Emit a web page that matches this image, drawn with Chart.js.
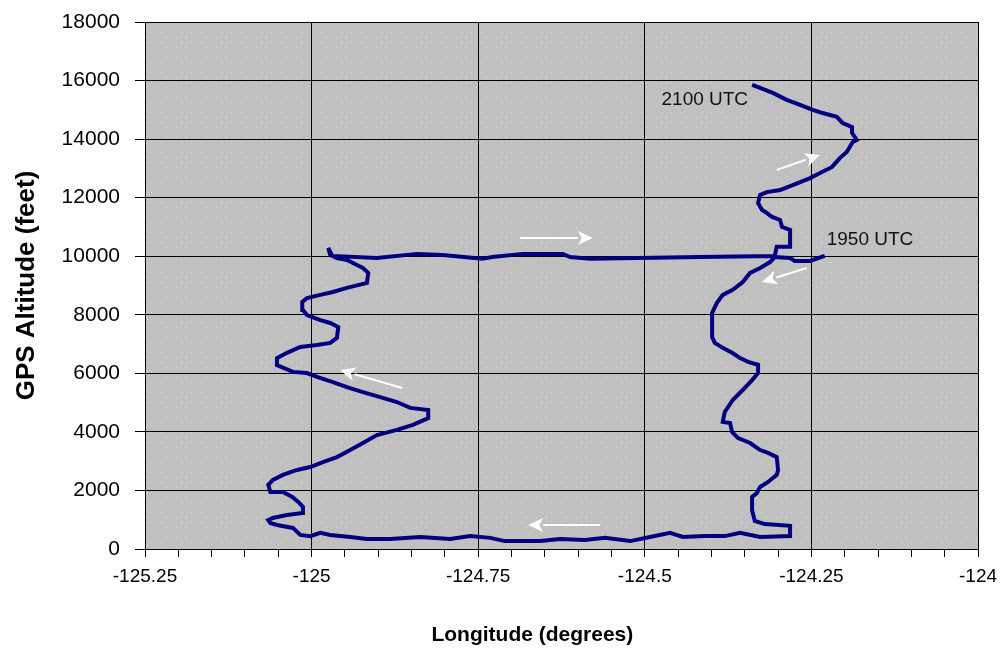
<!DOCTYPE html>
<html>
<head>
<meta charset="utf-8">
<script src="https://cdn.jsdelivr.net/npm/chart.js@4.4.0/dist/chart.umd.min.js"></script>
<style>
  html, body { margin: 0; padding: 0; background: #fff; }
  #wrap { width: 1006px; height: 649px; }
</style>
</head>
<body>
<div id="wrap"><canvas id="myChart" width="1006" height="649"></canvas></div>
<script>
// flight track, in order from 1950 UTC to 2100 UTC
const longitude = [
  -124.230, -124.252, -124.275, -124.282, -124.305, -124.312, -124.327, -124.342, -124.353, -124.368,
  -124.383, -124.392, -124.399, -124.399, -124.395, -124.383, -124.369, -124.357, -124.345, -124.330,
  -124.330, -124.339, -124.353, -124.368, -124.380, -124.383, -124.372, -124.369, -124.360, -124.342,
  -124.327, -124.315, -124.302, -124.300, -124.302, -124.315, -124.327, -124.332, -124.339, -124.339,
  -124.335, -124.320, -124.282, -124.282, -124.327, -124.357, -124.380, -124.410, -124.443, -124.462,
  -124.492, -124.522, -124.560, -124.590, -124.627, -124.657, -124.710, -124.732, -124.762, -124.792,
  -124.837, -124.882, -124.917, -124.942, -124.972, -124.987, -125.002, -125.017, -125.028, -125.052,
  -125.062, -125.065, -125.058, -125.037, -125.014, -125.013, -125.020, -125.029, -125.043, -125.062,
  -125.065, -125.058, -125.043, -125.022, -125.002, -124.983, -124.962, -124.942, -124.923, -124.902,
  -124.872, -124.848, -124.825, -124.825, -124.852, -124.872, -124.897, -124.923, -124.947, -124.968,
  -124.992, -125.007, -125.028, -125.052, -125.052, -125.037, -125.017, -124.992, -124.972, -124.962,
  -124.960, -124.972, -124.987, -125.007, -125.013, -125.014, -125.007, -124.987, -124.968, -124.947,
  -124.917, -124.915, -124.923, -124.938, -124.947, -124.962, -124.972, -124.975, -124.969, -124.902,
  -124.842, -124.803, -124.744, -124.729, -124.683, -124.623, -124.612, -124.582, -124.417, -124.305,
  -124.302, -124.282, -124.282, -124.294, -124.297, -124.309, -124.317, -124.324, -124.330, -124.327,
  -124.317, -124.297, -124.278, -124.252, -124.237, -124.219, -124.207, -124.197, -124.188, -124.182,
  -124.189, -124.189, -124.203, -124.212, -124.233, -124.248, -124.267, -124.287, -124.308, -124.327,
  -124.339
];
const altitude = [
  10010, 9840, 9840, 9940, 9970, 9800, 9600, 9430, 9120, 8850,
  8680, 8400, 8060, 7240, 7040, 6870, 6700, 6520, 6390, 6290,
  6010, 5770, 5430, 5090, 4680, 4340, 4300, 4000, 3790, 3620,
  3380, 3280, 3140, 2700, 2530, 2290, 2120, 1910, 1780, 1330,
  960, 850, 790, 440, 410, 550, 440, 440, 410, 550,
  410, 270, 380, 310, 340, 270, 270, 380, 440, 340,
  410, 340, 340, 410, 480, 550, 440, 480, 720, 820,
  890, 990, 1060, 1160, 1230, 1440, 1610, 1780, 1950, 1950,
  2190, 2360, 2530, 2700, 2800, 2970, 3140, 3380, 3620, 3890,
  4070, 4240, 4470, 4750, 4820, 5020, 5190, 5360, 5530, 5700,
  5880, 6010, 6050, 6280, 6520, 6700, 6900, 6970, 7040, 7210,
  7580, 7720, 7820, 7990, 8160, 8440, 8570, 8680, 8780, 8920,
  9090, 9430, 9600, 9770, 9870, 9940, 10040, 10280, 10010, 9940,
  10080, 10040, 9910, 9970, 10080, 10080, 9970, 9910, 9970, 10010,
  10320, 10320, 10900, 11000, 11240, 11340, 11480, 11580, 11820, 12090,
  12190, 12260, 12430, 12670, 12840, 13050, 13360, 13560, 13900, 13970,
  14210, 14410, 14550, 14760, 14890, 15000, 15170, 15340, 15580, 15750,
  15850
];

// white direction arrows: [tail lon, tail alt, tip lon, tip alt]
const arrows = [
  [-124.687, 10620, -124.578, 10620],
  [-124.257, 9600, -124.324, 9120],
  [-124.302, 12950, -124.237, 13460],
  [-124.864, 5500, -124.957, 6110],
  [-124.567, 820, -124.675, 820]
];

// time labels: [text, lon, alt, align]
const timeLabels = [
  ['2100 UTC', -124.345, 15340, 'right'],
  ['1950 UTC', -124.227, 10550, 'left']
];

const xTitle = 'Longitude (degrees)';
const yTitle = 'GPS Altitude (feet)';

const xMin = -125.25, xMax = -124, xStep = 0.05;
const yMin = 0, yMax = 18000, yStep = 2000;

const points = longitude.map((lon, i) => ({ x: lon, y: altitude[i] }));

const fam = '"Liberation Sans", Arial, sans-serif';

function isMajor(v) {
  const q = v * 4;
  return Math.abs(q - Math.round(q)) < 1e-6;
}

// dotted grey plot background
function makePattern() {
  const c = document.createElement('canvas');
  c.width = 10; c.height = 10;
  const g = c.getContext('2d');
  g.fillStyle = '#c0c0c0';
  g.fillRect(0, 0, 10, 10);
  g.fillStyle = '#d8d8d8';
  g.fillRect(1, 2, 1, 1);
  g.fillRect(6, 7, 1, 1);
  return g.createPattern(c, 'repeat');
}

const plotBackground = {
  id: 'plotBackground',
  beforeDraw(chart) {
    const { ctx, chartArea: a } = chart;
    ctx.save();
    ctx.fillStyle = makePattern();
    ctx.fillRect(a.left, a.top, a.right - a.left, a.bottom - a.top);
    ctx.restore();
  }
};

const notes = {
  id: 'notes',
  afterDatasetsDraw(chart) {
    const { ctx, scales: { x, y } } = chart;
    ctx.save();
    ctx.strokeStyle = '#ffffff';
    ctx.fillStyle = '#ffffff';
    ctx.lineWidth = 2;
    arrows.forEach(a => {
      const x1 = x.getPixelForValue(a[0]), y1 = y.getPixelForValue(a[1]);
      const x2 = x.getPixelForValue(a[2]), y2 = y.getPixelForValue(a[3]);
      const ang = Math.atan2(y2 - y1, x2 - x1);
      const len = 15, half = 7;
      const bx = x2 - len * Math.cos(ang), by = y2 - len * Math.sin(ang);
      ctx.beginPath();
      ctx.moveTo(x1, y1);
      ctx.lineTo(bx, by);
      ctx.stroke();
      ctx.beginPath();
      ctx.moveTo(x2, y2);
      ctx.lineTo(bx + half * Math.sin(ang), by - half * Math.cos(ang));
      ctx.lineTo(bx + 4 * Math.cos(ang), by + 4 * Math.sin(ang));
      ctx.lineTo(bx - half * Math.sin(ang), by + half * Math.cos(ang));
      ctx.closePath();
      ctx.fill();
    });
    ctx.fillStyle = '#111';
    ctx.font = '19px ' + fam;
    ctx.textBaseline = 'middle';
    timeLabels.forEach(t => {
      ctx.textAlign = t[3];
      ctx.fillText(t[0], x.getPixelForValue(t[1]), y.getPixelForValue(t[2]));
    });
    ctx.restore();
  },
  afterDraw(chart) {
    // x axis title sits a little left of the plot centre in the original
    const { ctx, chartArea: a } = chart;
    ctx.save();
    ctx.fillStyle = '#000';
    ctx.font = 'bold 21px ' + fam;
    ctx.textAlign = 'center';
    ctx.textBaseline = 'middle';
    ctx.fillText(xTitle, a.left + (a.right - a.left) * 0.465, chart.height - 14);
    ctx.restore();
  }
};

new Chart(document.getElementById('myChart').getContext('2d'), {
  type: 'scatter',
  data: {
    datasets: [{
      label: 'GPS Altitude',
      data: points,
      showLine: true,
      borderColor: '#000080',
      borderWidth: 4,
      pointRadius: 0,
      tension: 0,
      fill: false
    }]
  },
  options: {
    responsive: false,
    animation: false,
    layout: { padding: { left: 0, right: 28, top: 22, bottom: 0 } },
    plugins: {
      legend: { display: false },
      tooltip: { enabled: false }
    },
    scales: {
      x: {
        type: 'linear',
        min: xMin,
        max: xMax,
        afterFit(scale) {
          scale.height = 100;
          scale.paddingLeft = 0;
          scale.paddingRight = 0;
        },
        ticks: {
          stepSize: xStep,
          autoSkip: false,
          maxRotation: 0,
          minRotation: 0,
          color: '#000',
          font: { family: fam, size: 19 },
          padding: 8,
          callback(v) {
            const r = Math.round(v * 100) / 100;
            return isMajor(r) ? String(r) : '';
          }
        },
        grid: {
          color(c) {
            return isMajor(Math.round(c.tick.value * 100) / 100) ? '#000' : 'rgba(0,0,0,0)';
          },
          tickColor: '#000',
          tickLength: 8,
          lineWidth: 1
        },
        border: { display: true, color: '#000', width: 1 }
      },
      y: {
        type: 'linear',
        min: yMin,
        max: yMax,
        afterFit(scale) {
          scale.width = 145;
          scale.paddingTop = 0;
          scale.paddingBottom = 0;
        },
        ticks: {
          stepSize: yStep,
          color: '#000',
          font: { family: fam, size: 21 },
          padding: 15,
          callback(v) { return String(v); }
        },
        grid: {
          color: '#000',
          tickColor: '#000',
          tickLength: 10,
          lineWidth: 1
        },
        border: { display: true, color: '#000', width: 1 },
        title: {
          display: true,
          text: yTitle,
          color: '#000',
          font: { family: fam, size: 26, weight: 'bold' },
          padding: { top: 11, bottom: 0 }
        }
      }
    }
  },
  plugins: [plotBackground, notes]
});
</script>
</body>
</html>
